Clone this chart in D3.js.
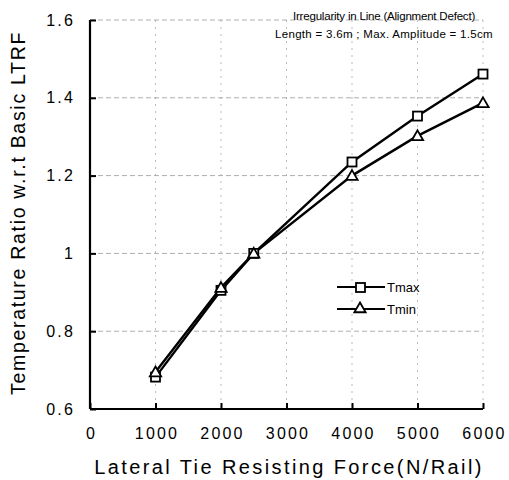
<!DOCTYPE html>
<html><head><meta charset="utf-8">
<script src="https://cdn.jsdelivr.net/npm/d3@7"></script>
<style>body{margin:0;background:#fff}</style>
</head><body>
<svg id="c" width="509" height="480"></svg>
<script>
const xTicks = [0,1000,2000,3000,4000,5000,6000];
const yTicks = [0.6,0.8,1.0,1.2,1.4,1.6];
const forces = [1000,2000,2500,4000,5000,6000];
const tmax = [0.682,0.905,1.0,1.235,1.353,1.461];
const tmin = [0.695,0.912,1.0,1.200,1.302,1.387];
const seriesNames = ["Tmax","Tmin"];
const noteLines = ["Irregularity in Line (Alignment Defect)","Length = 3.6m ; Max. Amplitude = 1.5cm"];

const svg = d3.select("#c");
const x = d3.scaleLinear().domain([0,6000]).range([90,483]);
const y = d3.scaleLinear().domain([0.6,1.6]).range([409,20]);
const font = "Arial, 'Liberation Sans', sans-serif";

// grid
const g = svg.append("g");
g.selectAll(".vg").data(xTicks.slice(1)).enter().append("line")
  .attr("x1",d=>x(d)).attr("x2",d=>x(d)).attr("y1",y(1.6)).attr("y2",y(0.6))
  .attr("stroke","#aaa").attr("stroke-width",0.8).attr("stroke-dasharray","2,5");
g.selectAll(".hg").data(yTicks.slice(1)).enter().append("line")
  .attr("x1",x(0)).attr("x2",x(6000)).attr("y1",d=>y(d)).attr("y2",d=>y(d))
  .attr("stroke","#999").attr("stroke-width",0.8).attr("stroke-dasharray","5,3");

// axes
const xAxis = d3.axisBottom(x).tickValues(xTicks).tickSize(-6).tickPadding(19).tickFormat(d3.format("d"));
const yAxis = d3.axisLeft(y).tickValues(yTicks).tickSize(-6).tickPadding(15).tickFormat(d=>d===1?"1":d3.format(".1f")(d));
const xa = svg.append("g").attr("transform",`translate(0,${y(0.6)})`).call(xAxis);
const ya = svg.append("g").attr("transform",`translate(${x(0)},0)`).call(yAxis);
[xa,ya].forEach(a=>{
  a.select(".domain").attr("stroke","#000").attr("stroke-width",2.2);
  a.selectAll(".tick line").attr("stroke","#000").attr("stroke-width",2);
  a.selectAll("text").attr("font-family",font).attr("font-size",16).attr("fill","#000").attr("letter-spacing","2.2px");
});
xa.selectAll("text").attr("dx","1px");
ya.select(".domain").attr("d",`M0,${y(1.6)}V${y(0.6)}`);
xa.select(".domain").attr("d",`M${x(0)},0H${x(6000)}`);

// lines
const line = d3.line().x((d,i)=>x(forces[i])).y(d=>y(d));
[tmax,tmin].forEach(s=>{
  svg.append("path").datum(s).attr("d",line).attr("fill","none").attr("stroke","#000").attr("stroke-width",2.4);
});
// markers
svg.selectAll(".sq").data(tmax).enter().append("rect")
  .attr("x",(d,i)=>x(forces[i])-4.5).attr("y",d=>y(d)-4.5).attr("width",9).attr("height",9)
  .attr("fill","#fff").attr("stroke","#000").attr("stroke-width",1.8);
const tri = d3.symbol().type(d3.symbolTriangle).size(55);
svg.selectAll(".tr").data(tmin).enter().append("path")
  .attr("d",tri).attr("transform",(d,i)=>`translate(${x(forces[i])},${y(d)+1})`)
  .attr("fill","#fff").attr("stroke","#000").attr("stroke-width",1.8);

// legend
const lg = svg.append("g");
[0,1].forEach(i=>{
  const ly = 287 + i*22;
  lg.append("line").attr("x1",337).attr("x2",385).attr("y1",ly).attr("y2",ly).attr("stroke","#000").attr("stroke-width",2);
  if(i===0) lg.append("rect").attr("x",356).attr("y",ly-4).attr("width",9).attr("height",9).attr("fill","#fff").attr("stroke","#000").attr("stroke-width",1.8);
  else lg.append("path").attr("d",tri).attr("transform",`translate(360,${ly})`).attr("fill","#fff").attr("stroke","#000").attr("stroke-width",1.8);
  lg.append("text").attr("x",387).attr("y",ly+5).text(seriesNames[i])
    .attr("font-family",font).attr("font-size",13).attr("fill","#000");
});

// notes
noteLines.forEach((t,i)=>{
  svg.append("text").attr("x",384).attr("y",20+i*18).attr("text-anchor","middle").text(t)
    .attr("font-family",font).attr("font-size",11.5).attr("fill","#000").attr("letter-spacing",i===0?"-0.2px":"0.3px");
});

// axis titles
svg.append("text").attr("x",289).attr("y",474).attr("text-anchor","middle")
  .text("Lateral Tie Resisting Force(N/Rail)").attr("font-family",font).attr("font-size",20).attr("letter-spacing","2.4px").attr("fill","#000");
svg.append("text").attr("transform","translate(25,213) rotate(-90)").attr("text-anchor","middle")
  .text("Temperature Ratio w.r.t Basic LTRF").attr("font-family",font).attr("font-size",19.5).attr("letter-spacing","1.7px").attr("fill","#000");
</script>
</body></html>
